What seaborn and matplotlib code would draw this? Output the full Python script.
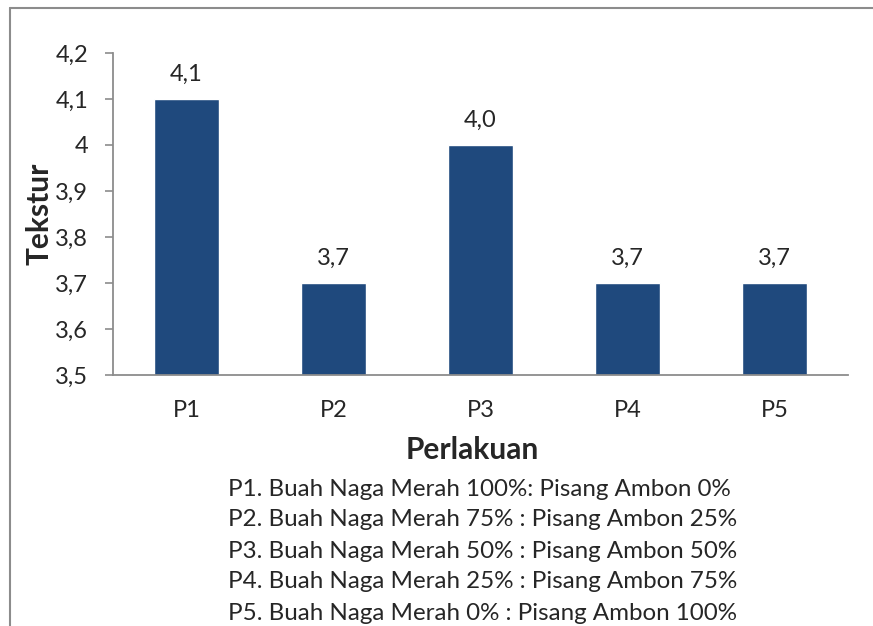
import matplotlib
matplotlib.use("Agg")
import matplotlib.pyplot as plt
import seaborn as sns
from matplotlib.ticker import FuncFormatter, MultipleLocator
from matplotlib.lines import Line2D

perlakuan = ["P1", "P2", "P3", "P4", "P5"]
tekstur = [4.1, 3.7, 4.0, 3.7, 3.7]
label_nilai = ["4,1", "3,7", "4,0", "3,7", "3,7"]
keterangan = [
    "P1. Buah Naga Merah 100%: Pisang Ambon 0%",
    "P2. Buah Naga Merah 75% : Pisang Ambon 25%",
    "P3. Buah Naga Merah 50% : Pisang Ambon 50%",
    "P4. Buah Naga Merah 25% : Pisang Ambon 75%",
    "P5. Buah Naga Merah 0% : Pisang Ambon 100%",
]

sns.set_style("white")
plt.rcParams['font.family'] = ['Lato', 'DejaVu Sans']

fig = plt.figure(figsize=(8.73, 6.26), dpi=100)
ax = fig.add_axes([113/873, 1 - 375/626, 735/873, 322/626])

sns.barplot(x=perlakuan, y=tekstur, color="#1F497D", width=0.44, saturation=1, ax=ax)
ax.set_ylim(3.5, 4.2)
ax.yaxis.set_major_locator(MultipleLocator(0.1))
ax.yaxis.set_major_formatter(FuncFormatter(lambda v, p: ("%g" % round(v, 2)).replace(".", ",")))
ax.bar_label(ax.containers[0], labels=label_nilai, padding=10, fontsize=17)

for s in ["top", "right"]:
    ax.spines[s].set_visible(False)
for s in ["left", "bottom"]:
    ax.spines[s].set_color("#8c8c8c")
    ax.spines[s].set_linewidth(1.3)
ax.tick_params(axis="y", direction="out", length=6, width=1.2, color="#8c8c8c", labelsize=17, pad=12, left=True)
ax.tick_params(axis="x", length=0, labelsize=17, pad=18)

ax.set_xlabel("Perlakuan", fontsize=21.5, fontweight="bold", labelpad=12)
ax.xaxis.set_label_coords((472 - 113) / 735, -0.19)
ax.set_ylabel("Tekstur", fontsize=21.5, fontweight="bold", labelpad=1)

for i, t in enumerate(keterangan):
    fig.text(228/873, 1 - (489 + 31*i)/626, t, fontsize=17.4, ha="left", va="center")

# border of the chart area
fig.add_artist(Line2D([10/873, 10/873], [0, 1 - 8/626], color="#8c8c8c", lw=1.5))
fig.add_artist(Line2D([10/873, 1], [1 - 8/626, 1 - 8/626], color="#8c8c8c", lw=1.5))

fig.savefig("out.png", dpi=100)
